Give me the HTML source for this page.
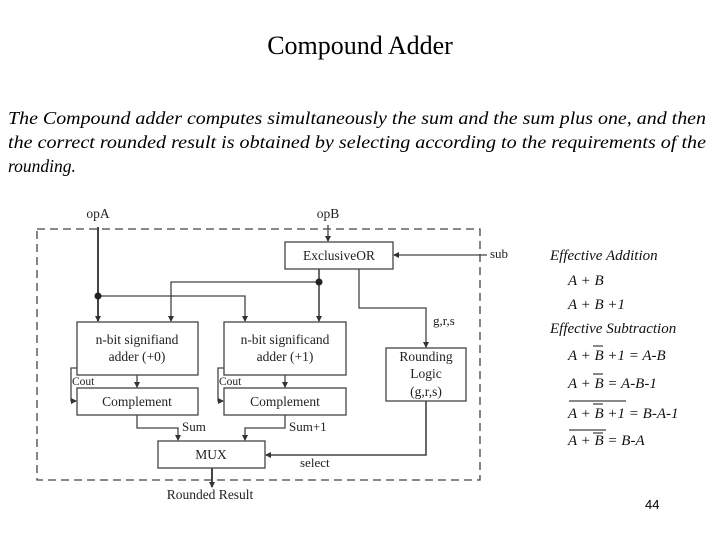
<!DOCTYPE html>
<html><head><meta charset="utf-8"><style>
html,body{margin:0;padding:0;background:#fff;}
svg{display:block;}
</style></head><body>
<svg width="720" height="540" viewBox="0 0 720 540" xmlns="http://www.w3.org/2000/svg" font-family="Liberation Serif, serif">
<defs>
<marker id="ar" markerWidth="6" markerHeight="6" refX="5" refY="3" orient="auto" markerUnits="userSpaceOnUse">
<path d="M0,0 L6,3 L0,6 z" fill="#333"/></marker>
</defs>
<text x="360" y="54" font-size="26" text-anchor="middle">Compound Adder</text>
<g font-style="italic" font-size="17.5">
<text x="8" y="124" textLength="698" lengthAdjust="spacingAndGlyphs">The Compound adder computes simultaneously the sum and the sum plus one, and then</text>
<text x="8" y="148" textLength="698" lengthAdjust="spacingAndGlyphs">the correct rounded result is obtained by selecting according to the requirements of the</text>
<text x="8" y="172">rounding.</text>
</g>

<g stroke="#444" fill="none" stroke-width="1.3">
<rect x="37" y="229" width="443" height="251" stroke-dasharray="8,5"/>
<rect x="285" y="242" width="108" height="27" fill="#fff"/>
<rect x="77" y="322" width="121" height="53"/>
<rect x="224" y="322" width="122" height="53"/>
<rect x="77" y="388" width="121" height="27"/>
<rect x="224" y="388" width="122" height="27"/>
<rect x="386" y="348" width="80" height="53"/>
<rect x="158" y="441" width="107" height="27"/>
<path d="M98,227 V321" stroke-width="2" marker-end="url(#ar)"/>
<path d="M328,225 V241" marker-end="url(#ar)"/>
<path d="M487,255 H394" marker-end="url(#ar)"/>
<path d="M319,269 V321" stroke-width="1.6" marker-end="url(#ar)"/>
<path d="M319,282 H171 V321" marker-end="url(#ar)"/>
<path d="M98,296 H245 V321" marker-end="url(#ar)"/>
<path d="M359,269 V308 H426 V347" marker-end="url(#ar)"/>
<path d="M137,375 V387" marker-end="url(#ar)"/>
<path d="M285,375 V387" marker-end="url(#ar)"/>
<path d="M77,368 H71 V401 H76" marker-end="url(#ar)"/>
<path d="M224,368 H218 V401 H223" marker-end="url(#ar)"/>
<path d="M137,415 V428 H178 V440" marker-end="url(#ar)"/>
<path d="M285,415 V428 H245 V440" marker-end="url(#ar)"/>
<path d="M426,401 V455 H266" stroke-width="1.6" marker-end="url(#ar)"/>
<path d="M212,468 V487" stroke-width="2" marker-end="url(#ar)"/>
</g>
<circle cx="98" cy="296" r="3.5" fill="#222"/>
<circle cx="319" cy="282" r="3.5" fill="#222"/>

<g font-size="13.5" fill="#222" text-anchor="middle">
<text x="98" y="218">opA</text>
<text x="328" y="218">opB</text>
<text x="339" y="260">ExclusiveOR</text>
<text x="137" y="344">n-bit signifiand</text>
<text x="137" y="361">adder (+0)</text>
<text x="285" y="344">n-bit significand</text>
<text x="285" y="361">adder (+1)</text>
<text x="137" y="406">Complement</text>
<text x="285" y="406">Complement</text>
<text x="426" y="361">Rounding</text>
<text x="426" y="378">Logic</text>
<text x="426" y="396">(g,r,s)</text>
<text x="211" y="459">MUX</text>
<text x="210" y="499">Rounded Result</text>
</g>
<g font-size="13" fill="#222">
<text x="490" y="258">sub</text>
<text x="433" y="325">g,r,s</text>
<text x="72" y="385" font-size="11.5">Cout</text>
<text x="219" y="385" font-size="11.5">Cout</text>
<text x="182" y="431">Sum</text>
<text x="289" y="431">Sum+1</text>
<text x="300" y="467">select</text>
</g>

<g font-size="15" font-style="italic" fill="#111">
<text x="550" y="260">Effective Addition</text>
<text x="568" y="285">A + B</text>
<text x="568" y="309">A + B +1</text>
<text x="550" y="333">Effective Subtraction</text>
<text x="568" y="360">A + B +1 = A-B</text>
<text x="568" y="388">A + B = A-B-1</text>
<text x="568" y="418">A + B +1 = B-A-1</text>
<text x="568" y="445">A + B = B-A</text>
</g>
<g stroke="#111" stroke-width="1">
<line x1="593" y1="346" x2="603" y2="346"/>
<line x1="593" y1="374" x2="603" y2="374"/>
<line x1="593" y1="404" x2="603" y2="404"/>
<line x1="569" y1="401" x2="626" y2="401"/>
<line x1="593" y1="433" x2="603" y2="433"/>
<line x1="569" y1="430" x2="606" y2="430"/>
</g>
<text x="645" y="509" font-family="Liberation Sans, sans-serif" font-size="13">44</text>
</svg>
</body></html>
